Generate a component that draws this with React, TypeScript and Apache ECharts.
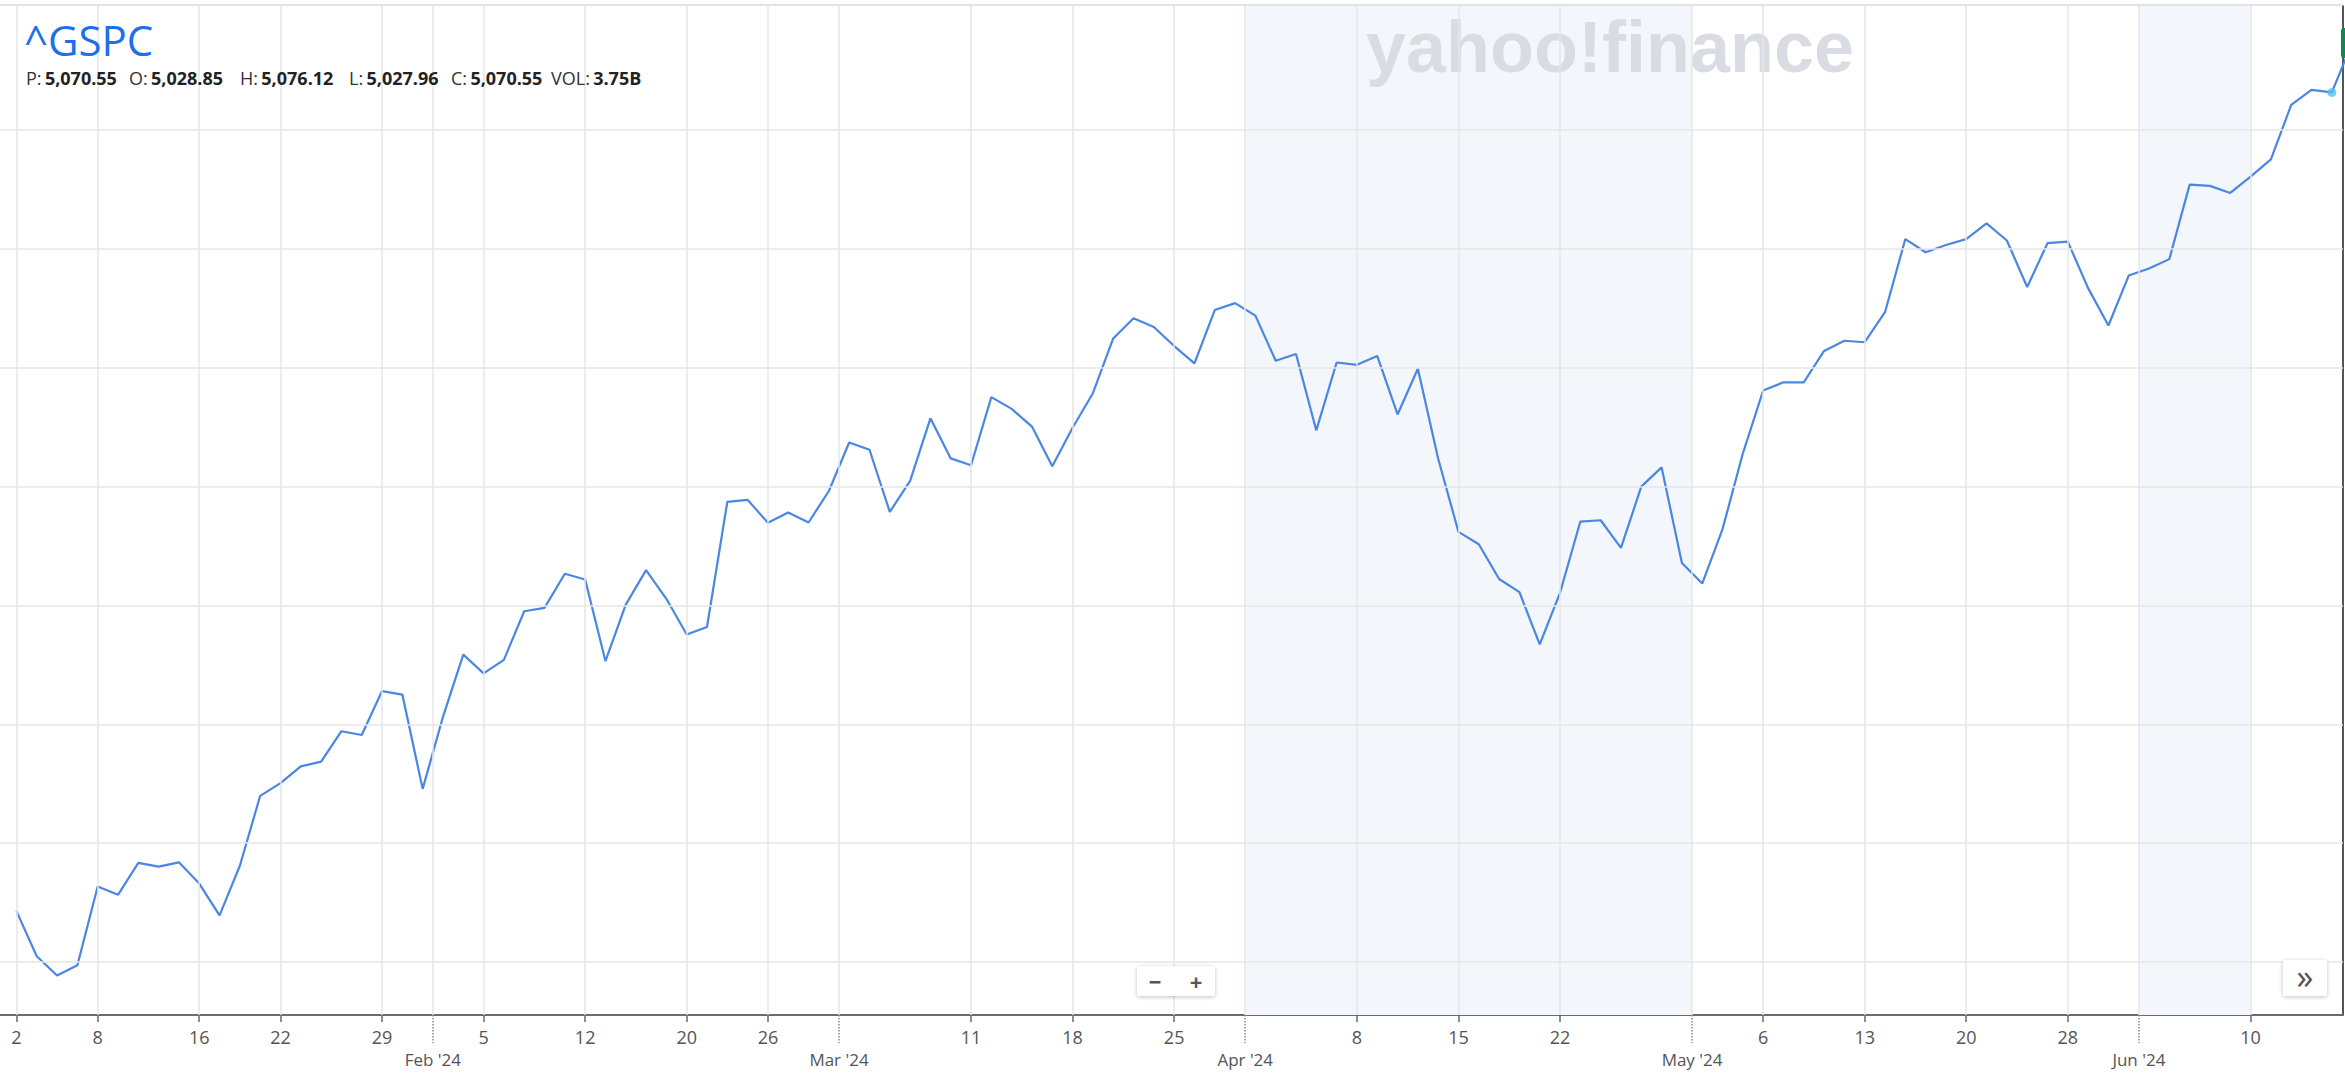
import React, { useEffect, useRef } from "react";
import * as echarts from "echarts";

const tradingDays = [
  "2024-01-02","2024-01-03","2024-01-04","2024-01-05","2024-01-08","2024-01-09","2024-01-10","2024-01-11","2024-01-12","2024-01-16","2024-01-17","2024-01-18","2024-01-19","2024-01-22","2024-01-23","2024-01-24","2024-01-25","2024-01-26","2024-01-29","2024-01-30","2024-01-31",
  "2024-02-01","2024-02-02","2024-02-05","2024-02-06","2024-02-07","2024-02-08","2024-02-09","2024-02-12","2024-02-13","2024-02-14","2024-02-15","2024-02-16","2024-02-20","2024-02-21","2024-02-22","2024-02-23","2024-02-26","2024-02-27","2024-02-28","2024-02-29",
  "2024-03-01","2024-03-04","2024-03-05","2024-03-06","2024-03-07","2024-03-08","2024-03-11","2024-03-12","2024-03-13","2024-03-14","2024-03-15","2024-03-18","2024-03-19","2024-03-20","2024-03-21","2024-03-22","2024-03-25","2024-03-26","2024-03-27","2024-03-28",
  "2024-04-01","2024-04-02","2024-04-03","2024-04-04","2024-04-05","2024-04-08","2024-04-09","2024-04-10","2024-04-11","2024-04-12","2024-04-15","2024-04-16","2024-04-17","2024-04-18","2024-04-19","2024-04-22","2024-04-23","2024-04-24","2024-04-25","2024-04-26","2024-04-29","2024-04-30",
  "2024-05-01","2024-05-02","2024-05-03","2024-05-06","2024-05-07","2024-05-08","2024-05-09","2024-05-10","2024-05-13","2024-05-14","2024-05-15","2024-05-16","2024-05-17","2024-05-20","2024-05-21","2024-05-22","2024-05-23","2024-05-24","2024-05-28","2024-05-29","2024-05-30","2024-05-31",
  "2024-06-03","2024-06-04","2024-06-05","2024-06-06","2024-06-07","2024-06-10","2024-06-11","2024-06-12","2024-06-13","2024-06-14","2024-06-17",
];

const closes = [
  4742.83,4704.81,4688.68,4697.24,4763.54,4756.5,4783.45,4780.24,4783.83,4765.98,4739.21,4780.94,4839.81,4850.43,4864.6,4868.55,4894.16,4890.97,4927.93,4924.97,4845.65,
  4906.19,4958.61,4942.81,4954.23,4995.06,4997.91,5026.61,5021.84,4953.17,5000.62,5029.73,5005.57,4975.51,4981.8,5087.03,5088.8,5069.53,5078.18,5069.76,5096.27,
  5137.08,5130.95,5078.65,5104.76,5157.36,5123.69,5117.94,5175.27,5165.31,5150.48,5117.09,5149.42,5178.51,5224.62,5241.53,5234.18,5218.19,5203.58,5248.49,5254.35,
  5243.77,5205.81,5211.49,5147.21,5204.34,5202.39,5209.91,5160.64,5199.06,5123.41,5061.82,5051.41,5022.21,5011.12,4967.23,5010.6,5070.55,5071.63,5048.42,5099.96,5116.17,5035.69,
  5018.39,5064.2,5127.79,5180.74,5187.7,5187.67,5214.08,5222.68,5221.42,5246.68,5308.15,5297.1,5303.27,5308.13,5321.41,5307.01,5267.84,5304.72,5306.04,5266.95,5235.48,5277.51,
  5283.4,5291.34,5354.03,5352.96,5346.99,5360.79,5375.32,5421.03,5433.74,5431.6,5473.23,
];

const tickDates = [
  "2024-01-02","2024-01-08","2024-01-16","2024-01-22","2024-01-29","2024-02-05","2024-02-12","2024-02-20","2024-02-26",
  "2024-03-11","2024-03-18","2024-03-25","2024-04-08","2024-04-15","2024-04-22","2024-05-06","2024-05-13","2024-05-20","2024-05-28","2024-06-10",
];
const monthNames = ["Jan","Feb","Mar","Apr","May","Jun","Jul","Aug","Sep","Oct","Nov","Dec"];
const yGridValues = [4700, 4800, 4900, 5000, 5100, 5200, 5300, 5400];
const shadedFrom = ["2024-04-01", "2024-06-03"];
const shadedTo = ["2024-05-01", "2024-06-10"];
const highlightDate = "2024-06-14";

const ticker = "^GSPC";
const infoLabels = ["P:", "O:", "H:", "L:", "C:", "VOL:"];
const infoValues = ["5,070.55", "5,028.85", "5,076.12", "5,027.96", "5,070.55", "3.75B"];
const infoX = [26, 129, 240, 349, 451, 551];

const FONT = '"Open Sans", "Noto Sans", sans-serif';

export default function App() {
  const ref = useRef<HTMLDivElement>(null);
  useEffect(() => {
    document.body.style.margin = "0";
    const chart = echarts.init(ref.current!, null, { renderer: "svg" });
    const idx = (d: string) => tradingDays.indexOf(d);
    const data = closes.map((v, i) => [i, v]);
    const tickIdx = tickDates.map(idx);
    const boundaries: number[] = [];
    for (let i = 1; i < tradingDays.length; i++) {
      if (tradingDays[i].slice(5, 7) !== tradingDays[i - 1].slice(5, 7)) boundaries.push(i - 0.5);
    }
    const bands = shadedFrom.map((f, k) => {
      const a = idx(f);
      const startsMonth = tradingDays[a - 1] && tradingDays[a - 1].slice(5, 7) !== f.slice(5, 7);
      const b = idx(shadedTo[k]);
      const endsMonth = tradingDays[b - 1] && tradingDays[b - 1].slice(5, 7) !== shadedTo[k].slice(5, 7);
      return [startsMonth ? a - 0.5 : a, endsMonth ? b - 0.5 : b];
    });
    const hi = idx(highlightDate);
    const xMin = -0.81;
    const xMax = 114.55;
    const yMin = 4655.4;
    const yMax = 5504.3;

    const dayLabel = (v: number) => {
      const d = tradingDays[Math.round(v)];
      return d ? String(Number(d.slice(8))) : "";
    };
    const monthLabel = (v: number) => {
      const d = tradingDays[Math.round(v + 0.5)];
      return d ? monthNames[Number(d.slice(5, 7)) - 1] + " '" + d.slice(2, 4) : "";
    };

    const graphics: any[] = [
      {
        type: "line",
        shape: { x1: 0, y1: 5, x2: 2343, y2: 5 },
        style: { stroke: "#e3e3e3", lineWidth: 2 },
        z: 1,
      },
      {
        type: "text",
        x: 1366,
        y: 47,
        style: {
          text: "yahoo!finance",
          fill: "#d9dde3",
          font: 'bold 72px "Liberation Sans", sans-serif',
          verticalAlign: "middle",
        },
        z: 2,
      },
      {
        type: "text",
        x: 24,
        y: 39,
        style: { text: ticker, fill: "#1f6fe8", font: "42px " + FONT, verticalAlign: "middle" },
        z: 20,
      },
      ...infoLabels.map((l, k) => ({
        type: "text",
        x: infoX[k],
        y: 78,
        style: {
          text: "{l|" + l + "} {v|" + infoValues[k] + "}",
          verticalAlign: "middle",
          rich: {
            l: { fill: "#333", fontSize: 18, fontFamily: FONT },
            v: { fill: "#222", fontSize: 18, fontWeight: "bold", fontFamily: FONT },
          },
        },
        z: 20,
      })),
      {
        type: "rect",
        shape: { x: 1137, y: 966, width: 78, height: 30, r: 3 },
        style: { fill: "#fff", shadowBlur: 4, shadowColor: "rgba(0,0,0,0.25)", shadowOffsetY: 1 },
        z: 20,
      },
      {
        type: "text",
        x: 1155,
        y: 981,
        style: { text: "−", fill: "#555", font: "bold 22px " + FONT, align: "center", verticalAlign: "middle" },
        z: 21,
      },
      {
        type: "text",
        x: 1196,
        y: 981,
        style: { text: "+", fill: "#555", font: "bold 22px " + FONT, align: "center", verticalAlign: "middle" },
        z: 21,
      },
      {
        type: "rect",
        shape: { x: 2283, y: 960, width: 44, height: 36, r: 3 },
        style: { fill: "#fff", shadowBlur: 4, shadowColor: "rgba(0,0,0,0.25)", shadowOffsetY: 1 },
        z: 20,
      },
      {
        type: "text",
        x: 2305,
        y: 976,
        style: { text: "»", fill: "#555", font: "34px " + FONT, align: "center", verticalAlign: "middle" },
        z: 21,
      },
      {
        type: "rect",
        shape: { x: 2341, y: 28, width: 20, height: 30, r: 3 },
        style: { fill: "#0f8a50" },
        z: 20,
      },
    ];

    chart.setOption({
      animation: false,
      backgroundColor: "#ffffff",
      grid: { left: 0, right: 2, top: 6, bottom: 58, containLabel: false },
      xAxis: [
        {
          type: "value",
          min: xMin,
          max: xMax,
          position: "bottom",
          axisLine: { show: true, onZero: false, lineStyle: { color: "#6b6b6b", width: 2 } },
          axisTick: { show: true, customValues: tickIdx, length: 7, lineStyle: { color: "#666", width: 1.5 } },
          axisLabel: {
            show: true,
            customValues: tickIdx,
            formatter: dayLabel,
            margin: 13,
            color: "#555",
            fontSize: 18,
            fontFamily: FONT,
          },
          splitLine: { show: false },
        },
        {
          type: "value",
          min: xMin,
          max: xMax,
          position: "bottom",
          offset: 0,
          axisLine: { show: false, onZero: false },
          axisTick: {
            show: true,
            customValues: boundaries,
            length: 28,
            lineStyle: { color: "#888", width: 1.5, type: "dotted" },
          },
          axisLabel: {
            show: true,
            customValues: boundaries,
            formatter: monthLabel,
            margin: 36,
            color: "#555",
            fontSize: 17,
            fontFamily: FONT,
          },
          splitLine: { show: false },
        },
      ],
      yAxis: {
        type: "value",
        min: yMin,
        max: yMax,
        position: "right",
        axisLine: { show: true, onZero: false, lineStyle: { color: "#555", width: 2 } },
        axisTick: { show: false },
        axisLabel: { show: false },
        splitLine: { show: false },
      },
      graphic: graphics,
      series: [
        {
          type: "line",
          data,
          symbol: "none",
          silent: true,
          lineStyle: { opacity: 0 },
          z: 0,
          markArea: {
            silent: true,
            itemStyle: { color: "#f3f6fa" },
            data: bands.map((b) => [{ xAxis: b[0] }, { xAxis: b[1] }]),
          },
        },
        {
          type: "line",
          data,
          symbol: "none",
          silent: true,
          lineStyle: { opacity: 0 },
          z: 1,
          markLine: {
            silent: true,
            symbol: ["none", "none"],
            label: { show: false },
            lineStyle: { color: "#e6e6e6", width: 1.5, type: "solid" },
            emphasis: { disabled: true },
            data: [
              ...yGridValues.map((v) => ({ yAxis: v })),
              ...[...tickIdx, ...boundaries].map((v) => ({ xAxis: v })),
            ],
          },
        },
        {
          type: "line",
          data,
          symbol: "none",
          clip: true,
          lineStyle: { color: "#4a86e4", width: 2.2 },
          z: 3,
        },
        {
          type: "scatter",
          data: [[hi, closes[hi]]],
          symbolSize: 9,
          itemStyle: { color: "#4fc3f7" },
          z: 4,
        },
      ],
    });
    return () => chart.dispose();
  }, []);
  return <div ref={ref} style={{ width: 2345, height: 1073 }} />;
}
